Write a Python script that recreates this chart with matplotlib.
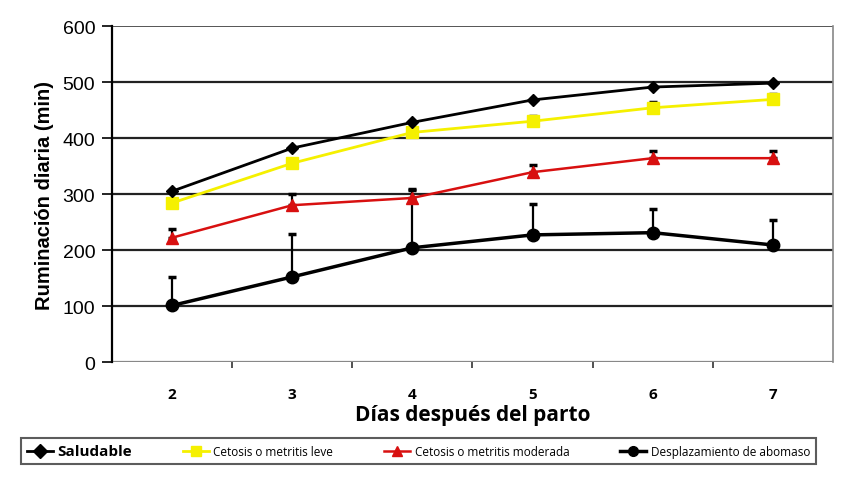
import numpy as np
import matplotlib.pyplot as plt
from matplotlib.ticker import FixedLocator

dias = ['2', '3', '4', '5', '6', '7']
saludable = [305, 382, 428, 468, 491, 498]
leve = [284, 355, 410, 430, 454, 469]
leve_err = [0, 6, 6, 9, 10, 10]
moderada = [222, 280, 293, 339, 364, 364]
moderada_err = [15, 20, 15, 12, 12, 12]
abomaso = [101, 152, 204, 227, 231, 209]
abomaso_err = [50, 76, 105, 55, 42, 44]

fig = plt.figure(figsize=(8.46, 4.85), dpi=100)
ax = fig.add_axes([0.1324, 0.2515, 0.8522, 0.6928])
x = np.arange(len(dias))

ax.set_ylim(0, 600)
ax.set_xlim(-0.5, len(dias) - 0.5)
ax.set_yticks(range(0, 601, 100))
for yv in range(100, 600, 100):
    ax.axhline(yv, color='#222222', lw=1.6, zorder=1)
ax.axhline(600, color='#555555', lw=1.4, zorder=1)
ax.axhline(0, color='#888888', lw=1.6, zorder=1)

ek = dict(fmt='none', ecolor='black', elinewidth=1.6, capsize=3, capthick=2.5, zorder=2)
ax.errorbar(x, leve, yerr=[np.zeros(6), leve_err], **ek)
ax.errorbar(x, moderada, yerr=[np.zeros(6), moderada_err], **ek)
ax.errorbar(x, abomaso, yerr=[np.zeros(6), abomaso_err], **ek)

l1, = ax.plot(x, saludable, color='black', lw=2, marker='D', ms=6, zorder=5, label='Saludable')
l2, = ax.plot(x, leve, color='#f5f000', lw=2, marker='s', ms=9, zorder=4, label='Cetosis o metritis leve')
l3, = ax.plot(x, moderada, color='#d81010', lw=1.8, marker='^', ms=9, mec='#d81010', zorder=4,
              label='Cetosis o metritis moderada')
l4, = ax.plot(x, abomaso, color='black', lw=2.5, marker='o', ms=9, zorder=4, label='Desplazamiento de abomaso')

ax.set_xticks(x)
ax.set_xticklabels(dias, fontfamily='Open Sans', fontweight='bold', fontsize=11)
ax.xaxis.set_minor_locator(FixedLocator(np.arange(0.5, len(dias) - 0.5, 1)))
ax.tick_params(axis='x', which='major', length=0, pad=18)
ax.tick_params(axis='x', which='minor', length=4, width=1.2, color='#333333', direction='out')
ax.tick_params(axis='y', length=7, width=1.2, labelsize=14, pad=5)
for lab in ax.get_yticklabels():
    lab.set_fontfamily('Liberation Sans')

for s in ['top', 'bottom']:
    ax.spines[s].set_visible(False)
ax.spines['left'].set_linewidth(1.6)
ax.spines['left'].set_color('black')
ax.spines['right'].set_color('#888888')
ax.spines['right'].set_linewidth(1.2)

ax.set_ylabel('Ruminación diaria (min)', fontfamily='Liberation Sans', fontweight='bold', fontsize=14.5, labelpad=6)
ax.set_xlabel('Días después del parto', fontfamily='Open Sans', fontweight='bold', fontsize=15, labelpad=2)

leg = fig.legend(handles=[l1, l2, l3, l4], loc='lower left', mode='expand',
                 bbox_to_anchor=(15 / 846, 14 / 485, 807 / 846, 31 / 485),
                 ncol=4, frameon=True, fancybox=False, edgecolor='#333333', handlelength=2.2,
                 columnspacing=1.2, handletextpad=0.4, borderpad=0.5, prop={'family': 'Open Sans', 'size': 8.5})
leg.get_frame().set_linewidth(1.5)
leg.get_texts()[0].set_fontsize(11)
leg.get_texts()[0].set_fontweight('bold')
for h in leg.legend_handles:
    h.set_markersize(7)

fig.savefig('out.png', dpi=100)
